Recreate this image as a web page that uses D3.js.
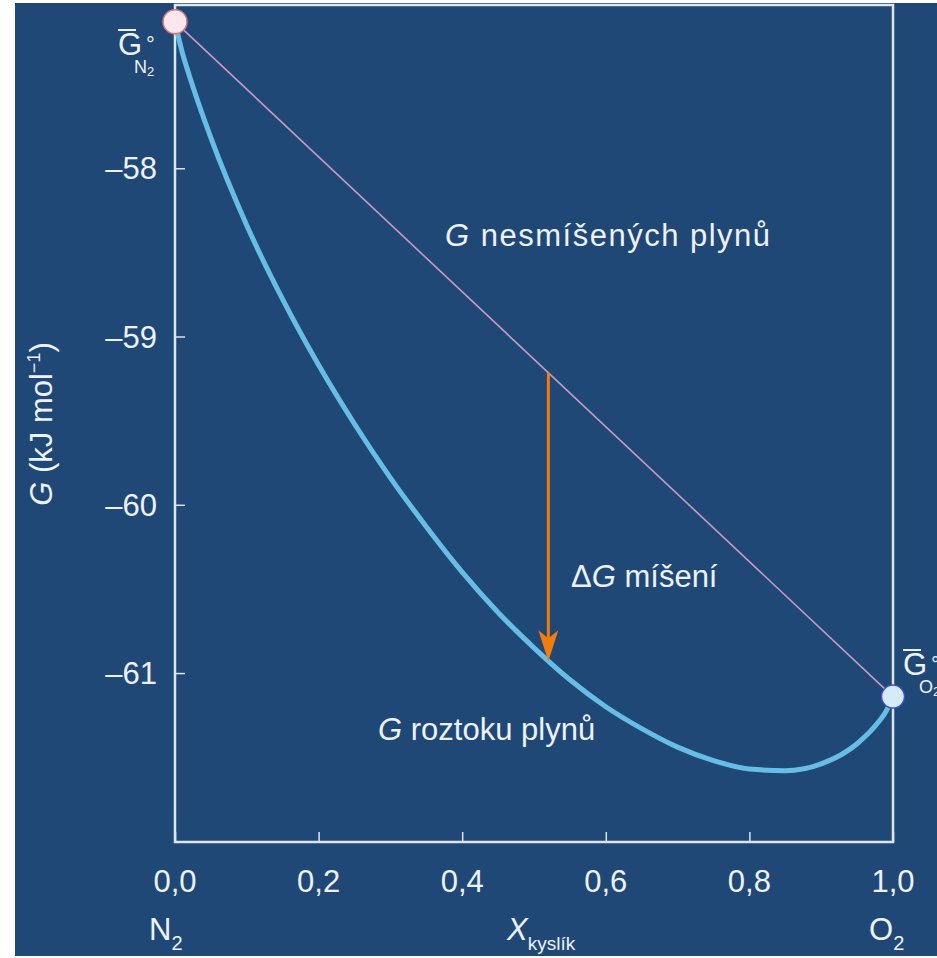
<!DOCTYPE html>
<meta charset="utf-8">
<style>
    body { margin: 0; background: #fff; }
    svg text { font-family: "Liberation Sans", Arial, sans-serif; fill: #eef2f7; }
</style>
<body>
<script src="https://cdn.jsdelivr.net/npm/d3@7"></script>
<script>
    /* data */
    var xTicks = [0, 0.2, 0.4, 0.6, 0.8, 1.0];
    var yTicks = [-58, -59, -60, -61];
    var xMol = [0, 0.01, 0.02, 0.05, 0.1, 0.15, 0.2, 0.25, 0.3, 0.35, 0.4, 0.45, 0.5,
        0.55, 0.6, 0.65, 0.7, 0.75, 0.8, 0.85, 0.9, 0.95, 0.98, 0.99, 1.0];
    var gSolution = [-57.13, -57.31, -57.45, -57.82, -58.34, -58.78, -59.17, -59.52, -59.84,
        -60.13, -60.40, -60.64, -60.85, -61.04, -61.20, -61.33, -61.44, -61.52, -61.57,
        -61.58, -61.54, -61.42, -61.29, -61.23, -61.14];
    var gPure = [-57.13, -61.14];          // G N2 at x=0, G O2 at x=1
    var arrowX = 0.52;                     // position of the ΔG arrow
    var arrowTo = -60.93;

    var w = 937, h = 958;
    var svg = d3.select("body").append("svg").attr("width", w).attr("height", h);

    svg.append("rect").attr("x", 15).attr("y", 3).attr("width", w - 15).attr("height", h - 5)
        .attr("fill", "#1f4877");

    var x = d3.scaleLinear().domain([0, 1]).range([175, 893]);
    var y = d3.scaleLinear().domain([-62.004, -57.03]).range([842, 5]);

    var frameCol = "#dfe5ee";
    var fs = 31;

    // x axis (ticks pointing inwards)
    svg.append("g").attr("transform", "translate(0,842)")
        .call(d3.axisBottom(x).tickValues(xTicks).tickSize(-10).tickFormat(""));
    // y axis
    svg.append("g").attr("transform", "translate(175,0)")
        .call(d3.axisLeft(y).tickValues(yTicks).tickSize(-10).tickFormat(""));
    svg.selectAll(".domain").remove();
    svg.selectAll(".tick line").attr("stroke", frameCol).attr("stroke-width", 1.5);

    // frame
    svg.append("rect").attr("x", 175).attr("y", 5).attr("width", 718).attr("height", 837)
        .attr("fill", "none").attr("stroke", frameCol).attr("stroke-width", 2.5);

    // tick labels
    svg.selectAll(".xl").data(xTicks).enter().append("text")
        .attr("x", function (d) { return x(d); }).attr("y", 892)
        .attr("text-anchor", "middle").attr("font-size", fs)
        .text(function (d) { return d.toFixed(1).replace(".", ","); });
    svg.selectAll(".yl").data(yTicks).enter().append("text")
        .attr("x", 157).attr("y", function (d) { return y(d) + 11; })
        .attr("text-anchor", "end").attr("font-size", fs)
        .text(function (d) { return "\u2013" + Math.abs(d); });

    // axis titles
    var n2 = svg.append("text").attr("x", 149).attr("y", 940).attr("font-size", fs);
    n2.append("tspan").text("N");
    n2.append("tspan").attr("font-size", 20).attr("dy", 10).text("2");
    var o2 = svg.append("text").attr("x", 869).attr("y", 940).attr("font-size", fs);
    o2.append("tspan").text("O");
    o2.append("tspan").attr("font-size", 20).attr("dy", 10).text("2");
    var xt = svg.append("text").attr("x", 507).attr("y", 940).attr("font-size", fs);
    xt.append("tspan").attr("font-style", "italic").text("X");
    xt.append("tspan").attr("font-size", 19).attr("dy", 10).text("kyslík");

    var yt = svg.append("text").attr("transform", "translate(52,424) rotate(-90)")
        .attr("text-anchor", "middle").attr("font-size", fs);
    yt.append("tspan").attr("font-style", "italic").text("G");
    yt.append("tspan").text(" (kJ mol");
    yt.append("tspan").attr("font-size", 18).attr("dy", -12).text("\u22121");
    yt.append("tspan").attr("dy", 12).text(")");

    // straight line of unmixed gases
    svg.append("line")
        .attr("x1", x(0)).attr("y1", y(gPure[0]))
        .attr("x2", x(1)).attr("y2", y(gPure[1]))
        .attr("stroke", "#c99bbd").attr("stroke-width", 1.6);

    // solution curve
    var line = d3.line()
        .x(function (d, i) { return x(xMol[i]); })
        .y(function (d) { return y(d); })
        .curve(d3.curveMonotoneX);
    svg.append("path").attr("d", line(gSolution))
        .attr("fill", "none").attr("stroke", "#67bde6").attr("stroke-width", 5);

    // ΔG arrow
    var ax = x(arrowX);
    var yTop = y(gPure[0] + (gPure[1] - gPure[0]) * arrowX);
    var yTip = y(arrowTo);
    svg.append("line").attr("x1", ax).attr("x2", ax)
        .attr("y1", yTop).attr("y2", yTip - 22)
        .attr("stroke", "#f27c0c").attr("stroke-width", 3);
    svg.append("path")
        .attr("d", "M" + (ax - 10) + "," + (yTip - 31) + "L" + ax + "," + yTip +
            "L" + (ax + 10) + "," + (yTip - 31) + "L" + ax + "," + (yTip - 23) + "Z")
        .attr("fill", "#f27c0c");

    // end points
    svg.append("circle").attr("cx", x(0)).attr("cy", y(gPure[0])).attr("r", 12)
        .attr("fill", "#fde6ec").attr("stroke", "#d0767c").attr("stroke-width", 1.5);
    svg.append("circle").attr("cx", x(1)).attr("cy", y(gPure[1])).attr("r", 11.5)
        .attr("fill", "#d6ebfa").attr("stroke", "#3d4fc8").attr("stroke-width", 1.5);

    // labels inside plot
    var t1 = svg.append("text").attr("x", 445).attr("y", 246).attr("font-size", fs)
        .attr("letter-spacing", 1.5);
    t1.append("tspan").attr("font-style", "italic").text("G");
    t1.append("tspan").text(" nesmíšených plynů");
    var t2 = svg.append("text").attr("x", 571).attr("y", 587).attr("font-size", fs);
    t2.append("tspan").text("\u0394");
    t2.append("tspan").attr("font-style", "italic").text("G");
    t2.append("tspan").text(" míšení");
    var t3 = svg.append("text").attr("x", 378).attr("y", 740).attr("font-size", fs);
    t3.append("tspan").attr("font-style", "italic").text("G");
    t3.append("tspan").text(" roztoku plynů");

    // G° labels at pure components
    function gLabel(px, py, sub) {
        var g = svg.append("g");
        g.append("text").attr("x", px).attr("y", py).attr("font-size", fs).text("G");
        g.append("text").attr("x", px + 28).attr("y", py - 3).attr("font-size", 22).text("°");
        var s = g.append("text").attr("x", px + 16).attr("y", py + 18).attr("font-size", 18);
        s.append("tspan").text(sub[0]);
        s.append("tspan").attr("font-size", 13).attr("dy", 3).text(sub[1]);
        g.append("line").attr("x1", px).attr("x2", px + 18)
            .attr("y1", py - 25).attr("y2", py - 25)
            .attr("stroke", "#eef2f7").attr("stroke-width", 2);
    }
    gLabel(118, 55, ["N", "2"]);
    gLabel(903, 675, ["O", "2"]);
</script>
</body>
